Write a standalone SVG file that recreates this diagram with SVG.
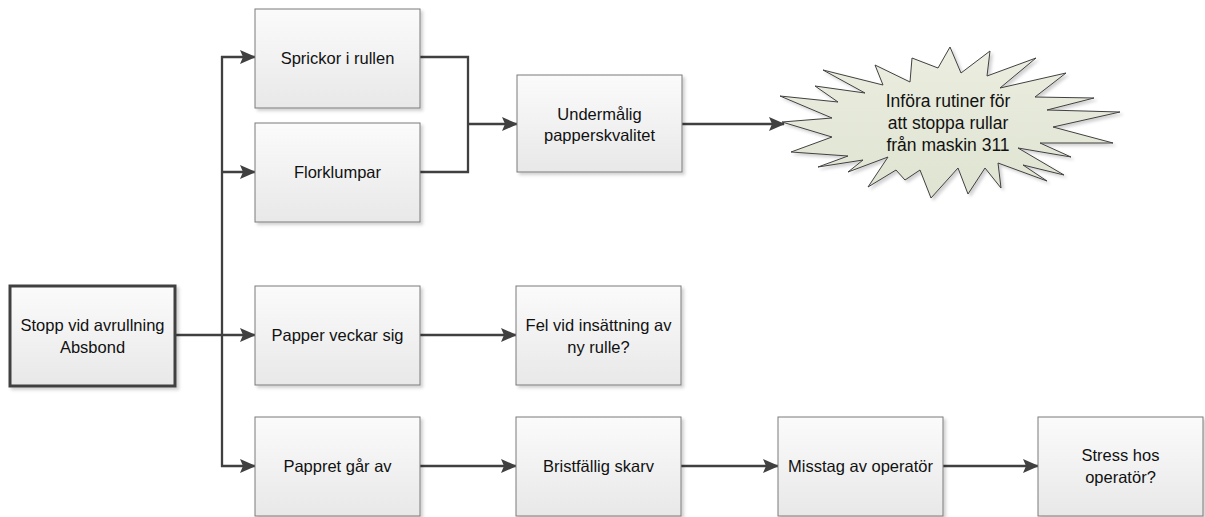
<svg xmlns="http://www.w3.org/2000/svg" width="1205" height="517" viewBox="0 0 1205 517">
  <style>
    .box { fill: url(#boxFill); stroke: #7a7a7a; stroke-width: 1; filter: url(#shadow); }
    .start { fill: url(#boxFill); stroke: #404040; stroke-width: 3; filter: url(#shadow); }
    .burst { fill: url(#burstFill); stroke: #404040; stroke-width: 1; filter: url(#shadow); }
    .lbl { font-family: "Liberation Sans", Arial, sans-serif; font-size: 16.5px; fill: #111; text-anchor: middle; }
    .lbl.big { font-size: 17.5px; }
    .wire { fill: none; stroke: #404040; stroke-width: 2.3; }
    .arrow { fill: none; stroke: #404040; stroke-width: 2.3; marker-end: url(#head); }
  </style>
  <defs>
    <linearGradient id="boxFill" x1="0" y1="0" x2="0" y2="1">
      <stop offset="0" stop-color="#fbfbfb"/>
      <stop offset="1" stop-color="#e8e8e8"/>
    </linearGradient>
    <linearGradient id="burstFill" x1="0" y1="0" x2="0" y2="1">
      <stop offset="0" stop-color="#ebeee0"/>
      <stop offset="1" stop-color="#dfe3d1"/>
    </linearGradient>
    <filter id="shadow" x="-10%" y="-10%" width="125%" height="130%">
      <feDropShadow dx="2.5" dy="2.5" stdDeviation="1.5" flood-color="#000" flood-opacity="0.18"/>
    </filter>
    <marker id="head" markerWidth="16" markerHeight="14" refX="15" refY="7" orient="auto" markerUnits="userSpaceOnUse">
      <path d="M0,0 L16,7 L0,14 L3,7 Z" fill="#404040"/>
    </marker>
  </defs>

  <!-- connectors -->
  <g id="connectors">
    <!-- trunk from the start node -->
    <path class="wire" d="M175,335 H222"/>
    <path class="wire" d="M222,56 V467"/>
    <path class="arrow" d="M221,57 H255"/>
    <path class="arrow" d="M221,172 H255"/>
    <path class="arrow" d="M221,335 H255"/>
    <path class="arrow" d="M221,466 H255"/>
    <!-- merge of the two upper causes -->
    <path class="wire" d="M420,57 H468 V172 H420"/>
    <path class="arrow" d="M468,124 H517"/>
    <path class="arrow" d="M682,124 H784"/>
    <!-- middle row -->
    <path class="arrow" d="M420,335 H516"/>
    <!-- bottom row -->
    <path class="arrow" d="M420,466 H516"/>
    <path class="arrow" d="M681,466 H778"/>
    <path class="arrow" d="M943,466 H1038"/>
  </g>

  <g id="n-stopp">
    <rect class="start" x="10" y="286" width="165" height="100"/>
    <text class="lbl" x="92.5" y="331">Stopp vid avrullning</text>
    <text class="lbl" x="92.5" y="353">Absbond</text>
  </g>

  <g id="n-sprickor">
    <rect class="box" x="255" y="9" width="165" height="99"/>
    <text class="lbl" x="337.5" y="64">Sprickor i rullen</text>
  </g>

  <g id="n-florklumpar">
    <rect class="box" x="255" y="123" width="165" height="99"/>
    <text class="lbl" x="337.5" y="178">Florklumpar</text>
  </g>

  <g id="n-undermalig">
    <rect class="box" x="517" y="75" width="165" height="97"/>
    <text class="lbl" x="599.5" y="120">Undermålig</text>
    <text class="lbl" x="599.5" y="141">papperskvalitet</text>
  </g>

  <g id="n-atgard">
    <polygon class="burst" points="950,47 961,73 990,51 987,76 1036,58 1000,88 1066,73 1035,97 1094,98 1047,110 1120,112 1053,127 1113,143 1040,143 1071,157 1018,148 1064,175 1023,165 1047,181 998,163 1001,188 985,168 968,194 958,168 931,198 920,170 905,180 896,170 868,187 888,157 848,172 863,160 818,167 848,156 791,152 832,137 782,122 832,118 780,96 838,102 815,86 865,93 823,70 883,85 875,65 910,82 912,58 938,68"/>
    <text class="lbl big" x="948" y="107">Införa rutiner för</text>
    <text class="lbl big" x="948" y="129">att stoppa rullar</text>
    <text class="lbl big" x="948" y="151">från maskin 311</text>
  </g>

  <g id="n-papper">
    <rect class="box" x="255" y="286" width="165" height="99"/>
    <text class="lbl" x="337.5" y="341">Papper veckar sig</text>
  </g>

  <g id="n-fel">
    <rect class="box" x="516" y="286" width="165" height="99"/>
    <text class="lbl" x="598.5" y="331">Fel vid insättning av</text>
    <text class="lbl" x="598.5" y="353">ny rulle?</text>
  </g>

  <g id="n-pappret">
    <rect class="box" x="255" y="417" width="165" height="99"/>
    <text class="lbl" x="337.5" y="472">Pappret går av</text>
  </g>

  <g id="n-bristfallig">
    <rect class="box" x="516" y="417" width="165" height="99"/>
    <text class="lbl" x="598.5" y="472">Bristfällig skarv</text>
  </g>

  <g id="n-misstag">
    <rect class="box" x="778" y="417" width="165" height="99"/>
    <text class="lbl" x="860.5" y="472">Misstag av operatör</text>
  </g>

  <g id="n-stress">
    <rect class="box" x="1038" y="417" width="165" height="99"/>
    <text class="lbl" x="1120.5" y="461">Stress hos</text>
    <text class="lbl" x="1120.5" y="483">operatör?</text>
  </g>
</svg>
